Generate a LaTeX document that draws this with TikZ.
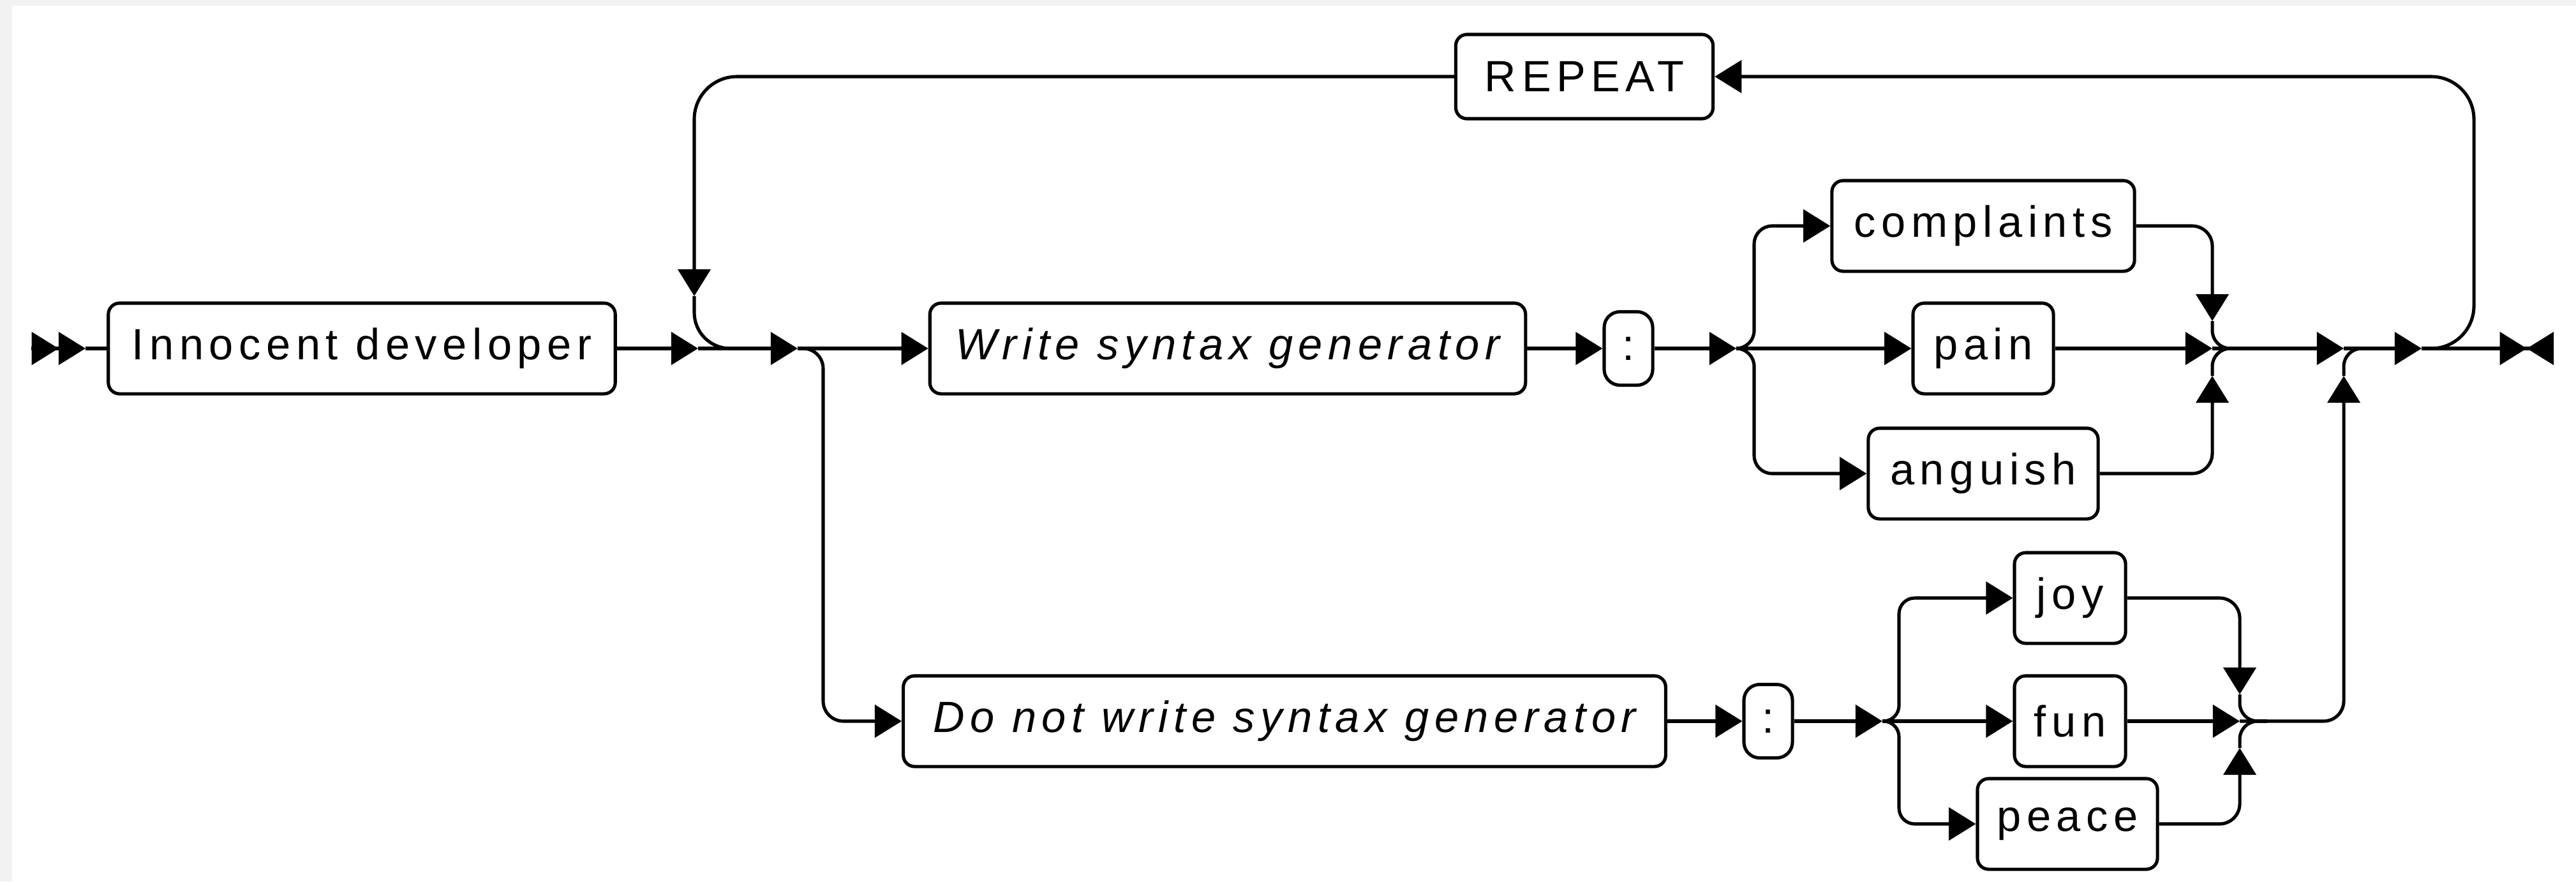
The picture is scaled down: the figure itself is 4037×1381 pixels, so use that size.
\documentclass[tikz,border=0pt]{standalone}
\usepackage{fontspec}
\newfontfamily\rrfont[LetterSpace=12.5]{Liberation Sans}
\usetikzlibrary{arrows.meta}

\tikzset{
	rrline/.style={line width=1.45pt},
	rrarrow/.style={-{Triangle[length=12pt,width=14.5pt]}},
	rrbox/.style={draw, line width=1.45pt, fill=white, rounded corners=5pt, inner sep=0pt,
		minimum height=1.42cm, font={\rrfont\fontsize{19.5}{23}\selectfont}},
	rrcolon/.style={rrbox, minimum width=0.76cm, minimum height=1.15cm, rounded corners=7pt}
}

\begin{document}
\begin{tikzpicture}[x=0.01cm, y=-0.01cm]
			\useasboundingbox (0, 0) rectangle (4037, 1381);
			\fill[black!5] (0, 0) rectangle (4037, 1381);
			\fill[white] (19, 9) rectangle (4037, 1381);

			% points on the lines
			\coordinate (st0) at (49, 546);
			\coordinate (st1) at (134, 546);
			\coordinate (a1) at (1094, 546);
			\coordinate (a2) at (1250, 546);
			\coordinate (a3) at (2721, 546);
			\coordinate (a5) at (3673, 546);
			\coordinate (a6) at (3795, 546);
			\coordinate (en) at (4002, 546);
			\coordinate (bd) at (1290, 1130);
			\coordinate (bu1) at (2749, 354);
			\coordinate (bl1) at (2749, 742);
			\coordinate (m1) at (3467, 546);
			\coordinate (mu1) at (3467, 503);
			\coordinate (ml1) at (3467, 589);
			\coordinate (m1r) at (3510, 546);
			\coordinate (a7) at (2950, 1130);
			\coordinate (bu2) at (2976, 937);
			\coordinate (bl2) at (2976, 1291);
			\coordinate (m2) at (3510, 1130);
			\coordinate (mu2) at (3510, 1088);
			\coordinate (ml2) at (3510, 1172);
			\coordinate (m2r) at (3553, 1130);
			\coordinate (ru) at (3673, 589);
			\coordinate (rur) at (3716, 546);
			\coordinate (lr) at (3877, 120);
			\coordinate (ld) at (1088, 464);
			\coordinate (lj) at (1170, 546);

			% boxes
			\node[rrbox, minimum width=7.94cm] (inno) at (567, 546) {Innocent developer};
			\node[rrbox, minimum width=4.03cm, minimum height=1.32cm] (rpt) at (2483, 120) {REPEAT};
			\node[rrbox, minimum width=9.33cm] (write) at (1924, 546) {\itshape Write syntax generator};
			\node[rrcolon] (col1) at (2552, 546) {:};
			\node[rrbox, minimum width=4.74cm] (cmp) at (3108, 354) {complaints};
			\node[rrbox, minimum width=2.2cm] (pain) at (3108, 546) {pain};
			\node[rrbox, minimum width=3.6cm] (ang) at (3108, 742) {anguish};
			\node[rrbox, minimum width=11.94cm] (donot) at (2013, 1130) {\itshape Do not write syntax generator};
			\node[rrcolon] (col2) at (2771, 1130) {:};
			\node[rrbox, minimum width=1.74cm] (joy) at (3244, 937) {joy};
			\node[rrbox, minimum width=1.74cm] (fun) at (3244, 1130) {fun};
			\node[rrbox, minimum width=2.82cm] (peace) at (3240, 1291) {peace};

			% main line
			\draw[rrline, -{Triangle[length=12pt,width=14.5pt] Triangle[length=12pt,width=14.5pt]}] (st0) -- (st1);
			\draw[rrline] (st1) -- (inno.west);
			\draw[rrline, rrarrow] (inno.east) -- (a1);
			\draw[rrline, rrarrow] (a1) -- (a2);
			\draw[rrline, rrarrow] (a2) -- (write.west);
			\draw[rrline, rrarrow] (write.east) -- (col1.west);
			\draw[rrline, rrarrow] (col1.east) -- (a3);
			\draw[rrline, rrarrow, rounded corners=8pt] (a3) -| (bu1) -- (cmp.west);
			\draw[rrline, rrarrow] (a3) -- (pain.west);
			\draw[rrline, rrarrow, rounded corners=8pt] (a3) -| (bl1) -- (ang.west);
			\draw[rrline, rrarrow, rounded corners=9pt] (cmp.east) -| (mu1);
			\draw[rrline, rrarrow, rounded corners=9pt] (ang.east) -| (ml1);
			\draw[rrline, rrarrow] (pain.east) -- (m1);
			\draw[rrline, rounded corners=8pt] (mu1) |- (m1r);
			\draw[rrline, rounded corners=8pt] (ml1) |- (m1r);
			\draw[rrline, rrarrow] (m1) -- (a5);
			\draw[rrline, rrarrow] (a5) -- (a6);
			\draw[rrline, -{Triangle[length=12pt,width=14.5pt] Triangle[length=12pt,width=14.5pt,reversed]}] (a6) -- (en);

			% lower line
			\draw[rrline, rrarrow, rounded corners=9pt] (a2) -| (bd) -- (donot.west);
			\draw[rrline, rrarrow] (donot.east) -- (col2.west);
			\draw[rrline, rrarrow] (col2.east) -- (a7);
			\draw[rrline, rrarrow, rounded corners=7pt] (a7) -| (bu2) -- (joy.west);
			\draw[rrline, rrarrow] (a7) -- (fun.west);
			\draw[rrline, rrarrow, rounded corners=7pt] (a7) -| (bl2) -- (peace.west);
			\draw[rrline, rrarrow, rounded corners=9pt] (joy.east) -| (mu2);
			\draw[rrline, rrarrow, rounded corners=9pt] (peace.east) -| (ml2);
			\draw[rrline, rrarrow] (fun.east) -- (m2);
			\draw[rrline, rounded corners=8pt] (mu2) |- (m2r);
			\draw[rrline, rounded corners=8pt] (ml2) |- (m2r);
			\draw[rrline, rrarrow, rounded corners=9pt] (m2) -| (ru);
			\draw[rrline, rounded corners=8pt] (ru) |- (rur);

			% repeat loop
			\draw[rrline, rrarrow, rounded corners=19pt] (a6) -| (lr) -- (rpt.east);
			\draw[rrline, rrarrow, rounded corners=19pt] (rpt.west) -| (ld);
			\draw[rrline, rounded corners=16pt] (ld) |- (lj);
\end{tikzpicture}
\end{document}
